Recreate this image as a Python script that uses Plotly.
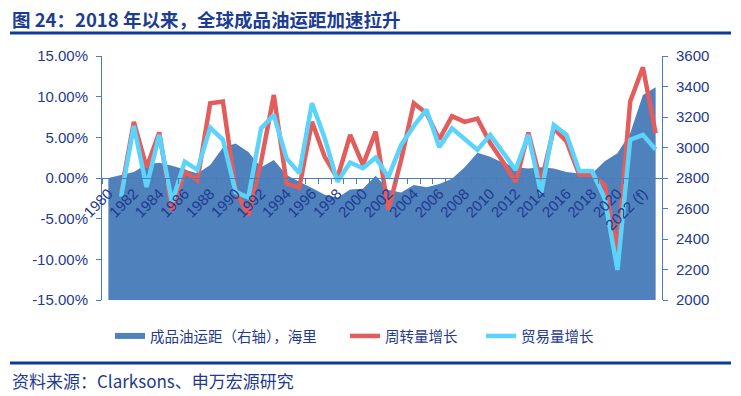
import plotly.graph_objects as go

# ---------------- data ----------------
years = list(range(1980, 2024))

# 成品油运距（右轴），海里
distance = [2800, 2820, 2840, 2890, 2900, 2880, 2855, 2830, 2885, 3000,
            3027, 2970, 2870, 2918, 2820, 2776, 2735, 2690, 2670, 2725,
            2730, 2815, 2721, 2705, 2754, 2740, 2760, 2795, 2870, 2966,
            2940, 2900, 2870, 2863, 2870, 2863, 2840, 2830, 2830, 2910,
            2962, 3093, 3344, 3395]

# 周转量增长 (%)
turnover_growth = [None, -1.8, 6.9, 1.3, 5.6, -4.0, 0.8, -0.3, 9.2, 9.4,
                   -1.5, -4.6, 2.0, 10.2, -0.65, -1.2, 6.9, 2.6, 0.0, 5.3,
                   1.6, 5.7, -3.9, 2.2, 9.2, 7.95, 4.75, 7.6, 6.9, 7.3,
                   4.3, 2.0, -0.5, 5.6, -0.6, 6.1, 4.5, 0.4, 0.4, -0.86,
                   -9.0, 9.4, 13.6, 5.5]

# 贸易量增长 (%)
trade_growth = [None, -2.3, 6.4, -1.1, 5.3, -3.0, 2.0, 1.0, 6.2, 4.7,
                -1.7, -2.4, 6.1, 7.75, 2.4, 0.6, 9.2, 4.9, -0.45, 1.9,
                1.2, 2.5, 0.1, 4.05, 6.4, 8.4, 3.8, 6.1, 4.75, 3.45,
                5.3, 3.2, 1.0, 5.3, -1.9, 6.5, 5.3, 0.85, 0.85, -2.5,
                -11.3, 4.7, 5.3, 3.5]

label_years = list(range(1980, 2023, 2))
year_labels = [str(y) for y in range(1980, 2022, 2)] + ["2022 (f)"]

pct_ticks = [-15, -10, -5, 0, 5, 10, 15]
pct_labels = ["-15.00%", "-10.00%", "-5.00%", "0.00%", "5.00%", "10.00%", "15.00%"]

title_text = "图 24：2018 年以来，全球成品油运距加速拉升"
source_text = "资料来源：Clarksons、申万宏源研究"

# ---------------- layout helpers ----------------
W, H = 741, 396
L, R, T, B = 102, 662, 56, 300


def px(x):
    return (x - L) / (R - L)


def py(y):
    return (B - y) / (B - T)


axis_color = "#4A7EBB"
text_color = "#1F3A8F"
rule_color = "#0B3A9B"
num_font = dict(family="Liberation Sans, Arial, sans-serif", size=15, color=text_color)
cjk = "Noto Sans CJK SC, Noto Sans, sans-serif"

fig = go.Figure()
fig.add_trace(go.Scatter(
    x=years, y=distance, name="成品油运距（右轴），海里",
    mode="none", fill="tozeroy", fillcolor="#4F81BD",
    yaxis="y", legend="legend"))
fig.add_trace(go.Scatter(
    x=years, y=turnover_growth, name="周转量增长", mode="lines",
    line=dict(color="#E35D5D", width=4.5), yaxis="y2", legend="legend2"))
fig.add_trace(go.Scatter(
    x=years, y=trade_growth, name="贸易量增长", mode="lines",
    line=dict(color="#5CD3FA", width=4.5), yaxis="y2", legend="legend3"))

legend_common = dict(orientation="h", xanchor="left", yanchor="middle",
                     bgcolor="rgba(0,0,0,0)",
                     font=dict(family=cjk, size=14.5, color=text_color))

fig.update_layout(
    width=W, height=H,
    margin=dict(l=L, r=W - R, t=T, b=H - B),
    paper_bgcolor="white", plot_bgcolor="white",
    xaxis=dict(
        range=[1979.5, 2023.5], anchor="free", position=0.5,
        showline=True, linecolor=axis_color, linewidth=1,
        tickmode="array", tickvals=label_years, ticktext=year_labels,
        tickangle=-45, ticks="", tickfont=num_font,
        showgrid=False, zeroline=False,
        minor=dict(tickmode="linear", tick0=1979.5, dtick=1, ticks="outside",
                   ticklen=5, tickcolor=axis_color, showgrid=False)),
    yaxis=dict(
        side="right", range=[2000, 3600], tick0=2000, dtick=200,
        ticks="outside", ticklen=5, tickcolor=axis_color,
        showline=True, linecolor=axis_color, showgrid=False, zeroline=False,
        tickfont=num_font, ticklabelstandoff=5),
    yaxis2=dict(
        overlaying="y", side="left", range=[-15, 15],
        tickmode="array", tickvals=pct_ticks, ticktext=pct_labels,
        ticks="outside", ticklen=5, tickcolor=axis_color,
        showline=True, linecolor=axis_color, showgrid=False, zeroline=False,
        tickfont=num_font, ticklabelstandoff=5),
    legend=dict(x=px(110), y=py(336), **legend_common),
    legend2=dict(x=px(345), y=py(336), **legend_common),
    legend3=dict(x=px(481), y=py(336), **legend_common),
    showlegend=True,
)

fig.add_annotation(
    x=px(10), y=py(19), xref="paper", yref="paper", xanchor="left", yanchor="middle",
    text="<b>" + title_text + "</b>", showarrow=False,
    font=dict(family=cjk, size=18.5, color="#1C3D92"))
fig.add_annotation(
    x=px(10), y=py(381), xref="paper", yref="paper", xanchor="left", yanchor="middle",
    text=source_text, showarrow=False,
    font=dict(family=cjk, size=17, color=text_color))

for yline in (33, 363):
    fig.add_shape(type="line", xref="paper", yref="paper",
                  x0=px(10), x1=px(731), y0=py(yline), y1=py(yline),
                  line=dict(color=rule_color, width=3))

fig.write_html(
    "out.html",
    config={"displayModeBar": False},
    post_script="document.body.style.margin='0';document.body.style.padding='0';"
                "document.body.style.overflow='hidden';")
